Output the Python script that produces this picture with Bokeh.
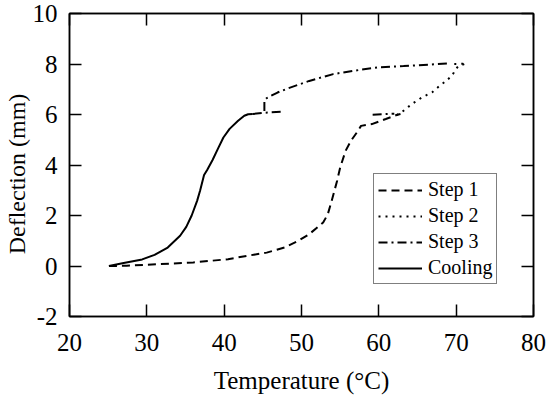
from bokeh.plotting import figure
from bokeh.models import Range1d, LinearAxis, FixedTicker, Legend, LegendItem
from bokeh.embed import file_html
from bokeh.resources import INLINE

# ---- data ----
step1_t = [25.1, 27.4, 31.5, 36.0, 40.5, 42.9, 45.5, 47.8, 49.6, 51.0, 52.8, 53.4,
           53.9, 54.6, 55.0, 55.7, 56.4, 57.3, 57.7, 59.1, 60.9, 62.4, 62.8]
step1_d = [0.0, 0.01, 0.07, 0.14, 0.27, 0.40, 0.53, 0.73, 1.0, 1.26, 1.72, 2.05,
           2.58, 3.37, 3.9, 4.56, 4.96, 5.35, 5.55, 5.62, 5.82, 5.99, 6.02]

step2_t = [62.3, 62.9, 63.8, 64.6, 65.6, 66.9, 67.8, 68.7, 69.5, 69.9, 70.3, 71.3, 70.2, 69.3]
step2_d = [5.98, 6.08, 6.30, 6.48, 6.68, 6.88, 7.12, 7.33, 7.55, 7.78, 7.92, 8.02, 8.0, 8.0]

step3_t = [68.8, 67.3, 63.2, 60.0, 57.8, 54.1, 51.0, 48.3, 46.9, 45.5, 45.2, 45.2]
step3_d = [8.02, 7.99, 7.92, 7.87, 7.78, 7.60, 7.33, 7.04, 6.87, 6.65, 6.55, 6.08]
step3b_t = [43.7, 45.2, 47.4]
step3b_d = [6.02, 6.07, 6.11]
step3c_t = [59.2, 60.5, 62.0]
step3c_d = [5.99, 6.01, 6.03]

cool_t = [25.1, 27.0, 29.4, 31.0, 32.7, 34.3, 35.1, 35.8, 36.5, 36.9, 37.4, 37.8,
          38.5, 39.2, 39.9, 40.7, 41.8, 42.6, 43.1, 43.7]
cool_d = [0.0, 0.12, 0.26, 0.44, 0.73, 1.2, 1.55, 2.0, 2.58, 3.0, 3.6, 3.8,
          4.2, 4.65, 5.09, 5.43, 5.75, 5.95, 6.01, 6.02]

x_ticks = [20, 30, 40, 50, 60, 70, 80]
y_ticks = [-2, 0, 2, 4, 6, 8, 10]

FONT = "Liberation Serif"

p = figure(width=550, height=399, output_backend="svg", toolbar_location=None,
           x_range=Range1d(20, 80), y_range=Range1d(-2, 10),
           min_border_left=68, min_border_right=17, min_border_top=13, min_border_bottom=83,
           x_axis_label="Temperature (°C)",
           y_axis_label="Deflection (mm)\u00a0\u00a0\u00a0")
p.xgrid.visible = False
p.ygrid.visible = False
p.outline_line_color = "black"
p.outline_line_width = 1.5
p.background_fill_color = "white"
p.border_fill_color = "white"

for ax, ticks in ((p.xaxis[0], x_ticks), (p.yaxis[0], y_ticks)):
    ax.ticker = FixedTicker(ticks=ticks)
    ax.major_tick_in = 12
    ax.major_tick_out = 0
    ax.minor_tick_in = 0
    ax.minor_tick_out = 0
    ax.major_tick_line_width = 1.5
    ax.axis_line_width = 1.5
    ax.major_label_text_font = FONT
    ax.major_label_text_font_size = "25px"
    ax.major_label_text_color = "black"
    ax.axis_label_text_font = FONT
    ax.axis_label_text_font_style = "normal"
    ax.axis_label_text_color = "black"

p.xaxis[0].axis_label_text_font_size = "25px"
p.yaxis[0].axis_label_text_font_size = "24px"
p.xaxis[0].major_label_standoff = 17
p.xaxis[0].axis_label_standoff = 13
p.yaxis[0].major_label_standoff = 12
p.yaxis[0].axis_label_standoff = 0
p.yaxis[0].major_label_overrides = {-2: "-2"}

blank_x = {t: "" for t in x_ticks}
blank_y = {t: "" for t in y_ticks}
top = LinearAxis(ticker=FixedTicker(ticks=x_ticks), major_label_overrides=blank_x,
                 major_label_text_font_size="1px",
                 major_label_standoff=0, major_tick_in=12, major_tick_out=0,
                 minor_tick_in=0, minor_tick_out=0, major_tick_line_width=1.5, axis_line_width=1.5)
right = LinearAxis(ticker=FixedTicker(ticks=y_ticks), major_label_overrides=blank_y,
                   major_label_text_font_size="1px",
                   major_label_standoff=0, major_tick_in=12, major_tick_out=0,
                   minor_tick_in=0, minor_tick_out=0, major_tick_line_width=1.5, axis_line_width=1.5)
p.add_layout(top, "above")
p.add_layout(right, "right")

LW = 2
r1 = p.line(step1_t, step1_d, line_color="black", line_width=LW, line_dash="8 5")
r2 = p.line(step2_t, step2_d, line_color="black", line_width=LW, line_dash="2 5")
r3 = p.line(step3_t, step3_d, line_color="black", line_width=LW, line_dash="9 4 2 4")
p.line(step3b_t, step3b_d, line_color="black", line_width=LW, line_dash="9 4 2 4")
p.line(step3c_t, step3c_d, line_color="black", line_width=LW, line_dash="9 4 2 4")
r4 = p.line(cool_t, cool_d, line_color="black", line_width=LW)

legend = Legend(items=[LegendItem(label="Step 1", renderers=[r1]),
                       LegendItem(label="Step 2", renderers=[r2]),
                       LegendItem(label="Step 3", renderers=[r3]),
                       LegendItem(label="Cooling", renderers=[r4])],
                location=(304, 32))
legend.label_text_font = FONT
legend.label_text_font_size = "20px"
legend.label_text_color = "black"
legend.border_line_color = "black"
legend.border_line_width = 1.5
legend.background_fill_alpha = 1.0
legend.padding = 4
legend.margin = 0
legend.spacing = 3
legend.glyph_width = 44
legend.glyph_height = 22
legend.label_height = 22
legend.label_standoff = 6
p.add_layout(legend, "center")

open("out.html", "w").write(file_html(p, INLINE))
